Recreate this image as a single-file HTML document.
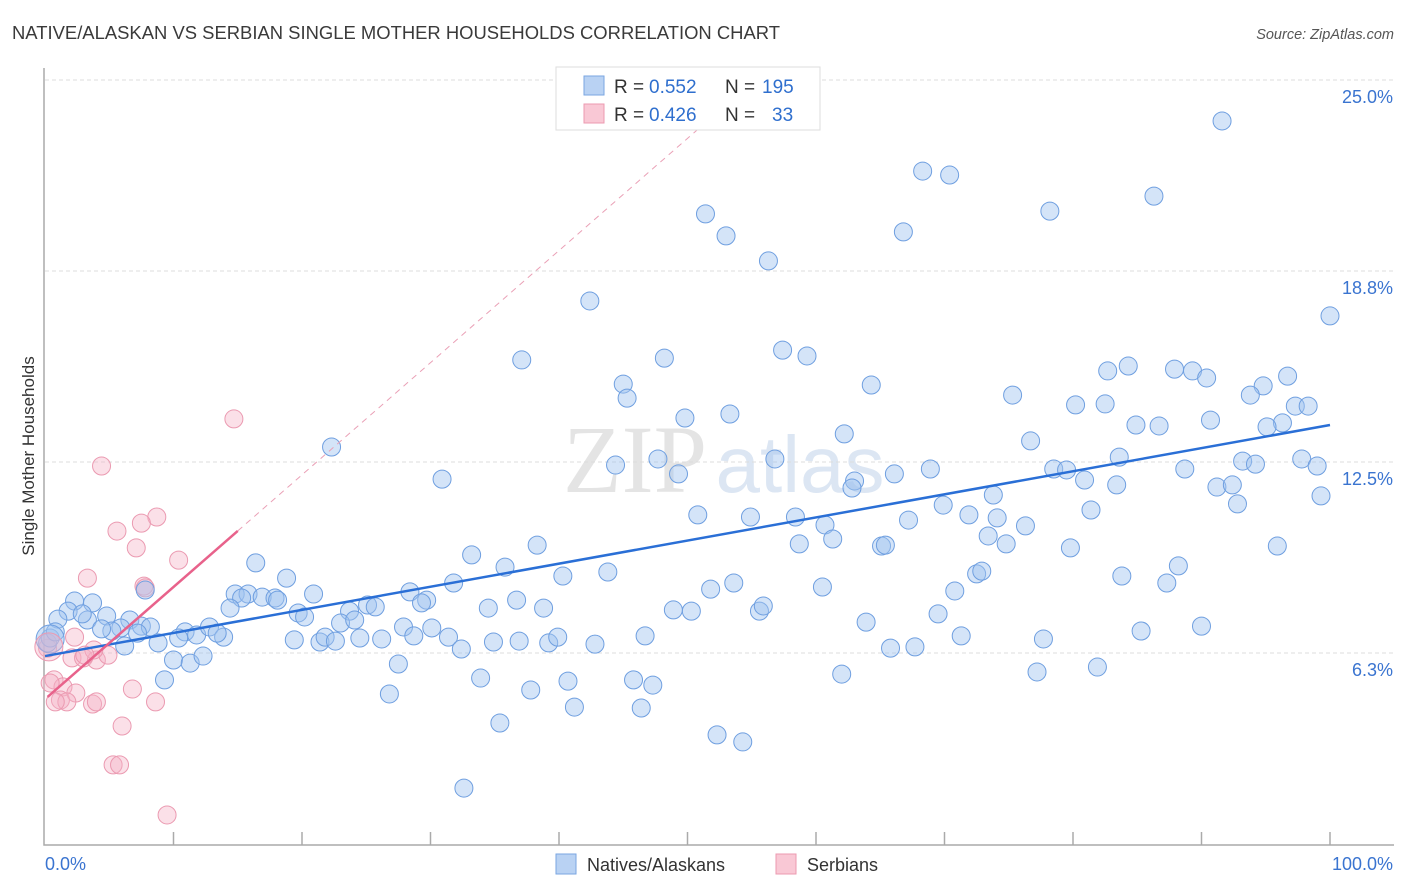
<!DOCTYPE html>
<html><head><meta charset="utf-8">
<style>
body{margin:0;background:#fff;font-family:"Liberation Sans",sans-serif;}
svg{display:block}
</style></head>
<body>
<svg id="chart" width="1406" height="892" xmlns="http://www.w3.org/2000/svg">
<text x="12" y="39" font-size="18" fill="#3a3a3a" textLength="768" lengthAdjust="spacingAndGlyphs">NATIVE/ALASKAN VS SERBIAN SINGLE MOTHER HOUSEHOLDS CORRELATION CHART</text>
<text x="1394" y="39" font-size="14.5" fill="#555" text-anchor="end" font-style="italic">Source: ZipAtlas.com</text>
<g>
<text x="635" y="492" font-size="96" fill="#e4e4e4" font-family="Liberation Serif,serif" text-anchor="middle">ZIP</text>
<text x="800" y="492" font-size="80" fill="#dce6f3" text-anchor="middle">atlas</text>
</g>
<g id="grid"></g>
<g id="axes"></g>
<g id="marks"></g>
<text transform="translate(34,456) rotate(-90)" font-size="17" fill="#333" text-anchor="middle">Single Mother Households</text>
<g>
<rect x="556" y="67" width="264" height="63" fill="#fff" stroke="#ddd"/>
<rect x="584" y="76" width="20" height="19" fill="#b9d2f3" stroke="#7aa6e2"/>
<text x="614" y="93" font-size="19" fill="#333">R =</text>
<text x="649" y="93" font-size="19" fill="#2f6fce">0.552</text>
<text x="725" y="93" font-size="19" fill="#333">N =</text>
<text x="762" y="93" font-size="19" fill="#2f6fce">195</text>
<rect x="584" y="104" width="20" height="19" fill="#f9c8d5" stroke="#ec9ab0"/>
<text x="614" y="121" font-size="19" fill="#333">R =</text>
<text x="649" y="121" font-size="19" fill="#2f6fce">0.426</text>
<text x="725" y="121" font-size="19" fill="#333">N =</text>
<text x="772" y="121" font-size="19" fill="#2f6fce">33</text>
</g>
<g>
<rect x="556" y="854" width="20" height="20" fill="#b9d2f3" stroke="#7aa6e2"/>
<text x="587" y="871" font-size="18" fill="#333">Natives/Alaskans</text>
<rect x="776" y="854" width="20" height="20" fill="#f9c8d5" stroke="#ec9ab0"/>
<text x="807" y="871" font-size="18" fill="#333">Serbians</text>
</g>
</svg>
<script>
const blueX=[91.6,68.3,70.4,86.3,51.4,78.2,53.0,66.8,56.3,42.4,100,57.4,59.3,37.1,48.2,84.3,82.7,87.9,89.3,90.4,96.7,45.0,64.3,94.8,93.8,45.3,75.3,80.2,82.5,97.3,98.3,49.8,53.3,90.7,96.3,95.1,84.9,86.7,62.2,76.7,22.3,93.2,94.2,44.4,47.7,56.8,83.6,97.8,99.0,78.5,79.5,49.3,66.1,68.9,88.7,30.9,63.0,62.8,80.9,83.4,91.2,92.4,73.8,99.3,69.9,92.8,81.4,50.8,54.9,58.4,67.2,71.9,74.1,76.3,60.7,58.7,61.3,65.1,65.4,73.4,74.8,79.8,95.9,38.3,33.2,16.4,35.8,31.8,40.3,43.8,53.6,60.5,70.8,72.5,72.9,83.8,87.3,88.2,18.8,7.8,14.8,15.8,16.9,17.9,18.1,20.9,15.3,28.4,29.7,29.3,25.1,25.7,23.7,14.4,36.7,34.5,38.8,48.9,50.3,51.8,55.6,55.9,69.5,4.8,2.3,3.7,1.8,1.0,3.3,2.9,6.6,5.9,7.5,8.2,5.2,4.4,7.2,10.9,11.8,10.4,12.8,13.9,13.4,19.7,20.2,23.0,24.1,24.5,19.4,21.4,21.8,22.6,26.2,27.9,28.7,30.1,31.4,32.4,34.9,36.9,39.2,39.9,42.8,46.7,63.9,71.3,77.7,85.3,90.0,8.8,10.0,11.3,12.3,6.2,27.5,33.9,37.8,40.7,45.8,47.3,62.0,65.8,67.7,77.2,81.9,26.8,41.2,46.4,35.4,52.3,54.3,32.6,9.3,0.2,0.4,0.8];
const blueY=[23.66,22.02,21.89,21.20,20.62,20.71,19.90,20.03,19.08,17.77,17.28,16.16,15.97,15.84,15.90,15.64,15.48,15.54,15.48,15.25,15.31,15.05,15.02,14.99,14.69,14.59,14.69,14.37,14.40,14.33,14.33,13.94,14.07,13.87,13.78,13.65,13.71,13.68,13.42,13.19,12.99,12.53,12.43,12.40,12.60,12.60,12.66,12.60,12.37,12.27,12.24,12.11,12.11,12.27,12.27,11.94,11.88,11.65,11.91,11.75,11.68,11.75,11.42,11.39,11.09,11.13,10.93,10.77,10.70,10.70,10.60,10.77,10.67,10.41,10.44,9.82,9.98,9.75,9.78,10.08,9.82,9.69,9.75,9.78,9.46,9.20,9.06,8.54,8.77,8.90,8.54,8.41,8.28,8.84,8.93,8.77,8.54,9.10,8.70,8.31,8.18,8.18,8.08,8.05,7.98,8.18,8.05,8.25,7.98,7.89,7.82,7.76,7.62,7.72,7.98,7.72,7.72,7.66,7.62,8.34,7.62,7.79,7.53,7.46,7.95,7.89,7.62,7.36,7.33,7.53,7.33,7.07,7.13,7.10,6.97,7.04,6.90,6.94,6.84,6.74,7.10,6.77,6.90,7.56,7.43,7.23,7.33,6.74,6.68,6.61,6.77,6.64,6.71,7.10,6.81,7.07,6.77,6.38,6.61,6.64,6.58,6.77,6.54,6.81,7.26,6.81,6.71,6.97,7.13,6.58,6.02,5.92,6.15,6.48,5.89,5.43,5.04,5.33,5.37,5.20,5.56,6.41,6.45,5.63,5.79,4.91,4.48,4.45,3.96,3.57,3.34,1.83,5.37,6.58,6.74,6.94];
const pinkX=[14.7,4.4,8.7,5.6,7.5,7.1,10.4,3.3,7.7,2.3,0.2,2.1,3.0,4.0,4.9,3.8,3.1,0.7,1.4,0.4,2.4,1.2,1.7,0.8,3.7,4.0,6.8,8.6,6.0,5.3,5.8,9.5,7.8];
const pinkY=[13.91,12.37,10.70,10.24,10.50,9.69,9.29,8.70,8.44,6.77,6.41,6.09,6.09,6.02,6.18,6.35,6.18,5.37,5.14,5.27,4.94,4.71,4.65,4.65,4.58,4.65,5.07,4.65,3.86,2.59,2.59,0.95,8.38];
const bigX=[0.4,0.3];
const bigY=[6.71,6.45];
const blueTrend=[6.15,13.71];
const pinkTrend=[4.74,0.367];
const yTicks=[6.25,12.5,18.75,25];
const yTickLabels=["6.3%","12.5%","18.8%","25.0%"];
const xTicks=[0,10,20,30,40,50,60,70,80,90,100];

const X=v=>45+v*12.85, Y=v=>844-v*30.56;
const NS="http://www.w3.org/2000/svg";
function mk(tag,attrs,parent){const e=document.createElementNS(NS,tag);for(const k in attrs)e.setAttribute(k,attrs[k]);parent.appendChild(e);return e;}
const grid=document.getElementById('grid'),axes=document.getElementById('axes'),marks=document.getElementById('marks');
yTicks.forEach((t,i)=>{
  const l=mk('line',{x1:45,x2:1394,y1:Y(t),y2:Y(t),stroke:'#ddd','stroke-dasharray':'4,3'},grid);
  
  
  const tx=mk('text',{x:1393,y:Y(t)+23,'font-size':18,fill:'#3a74d0','text-anchor':'end'},axes);
  tx.textContent=yTickLabels[i];
  
  
});
const ax=mk('path',{d:'M44,68 V845 H1394',fill:'none',stroke:'#aaa','stroke-width':1.5},axes);


xTicks.forEach(t=>{
  if(t===0)return;
  const l=mk('line',{x1:X(t),x2:X(t),y1:832,y2:845,stroke:'#aaa','stroke-width':1.5},axes);
  
  
});
const xl0=mk('text',{x:45,y:870,'font-size':18,fill:'#3a74d0'},axes);xl0.textContent='0.0%';


const xl1=mk('text',{x:1393,y:870,'font-size':18,fill:'#3a74d0','text-anchor':'end'},axes);xl1.textContent='100.0%';



pinkX.forEach((x,i)=>{
  const c=mk('circle',{cx:X(x),cy:Y(pinkY[i]),r:9,fill:'rgba(246,178,198,0.4)',stroke:'#eb9ab1','stroke-width':1},marks);
  
  
});
blueX.forEach((x,i)=>{
  const c=mk('circle',{cx:X(x),cy:Y(blueY[i]),r:9,fill:'rgba(160,196,240,0.45)',stroke:'#6f9fe0','stroke-width':1},marks);
  
  
});
bigX.forEach((x,i)=>{
  const c=mk('circle',{cx:X(x),cy:Y(bigY[i]),r:14,fill:i?'rgba(246,178,198,0.4)':'rgba(160,196,240,0.5)',stroke:i?'#eb9ab1':'#6f9fe0','stroke-width':1},marks);
  
  
});
const bl=mk('line',{x1:X(0),y1:Y(blueTrend[0]),x2:X(100),y2:Y(blueTrend[1]),stroke:'#2a6fd6','stroke-width':2.5},marks);


const pl=mk('line',{x1:X(0.2),y1:Y(pinkTrend[0]+pinkTrend[1]*0.2),x2:X(15),y2:Y(pinkTrend[0]+pinkTrend[1]*15),stroke:'#e8628b','stroke-width':2.5},marks);


const pd=mk('line',{x1:X(15),y1:Y(pinkTrend[0]+pinkTrend[1]*15),x2:X(51),y2:Y(pinkTrend[0]+pinkTrend[1]*51),stroke:'#eaa0b6','stroke-width':1,'stroke-dasharray':'6,5'},marks);


</script>
</body></html>
